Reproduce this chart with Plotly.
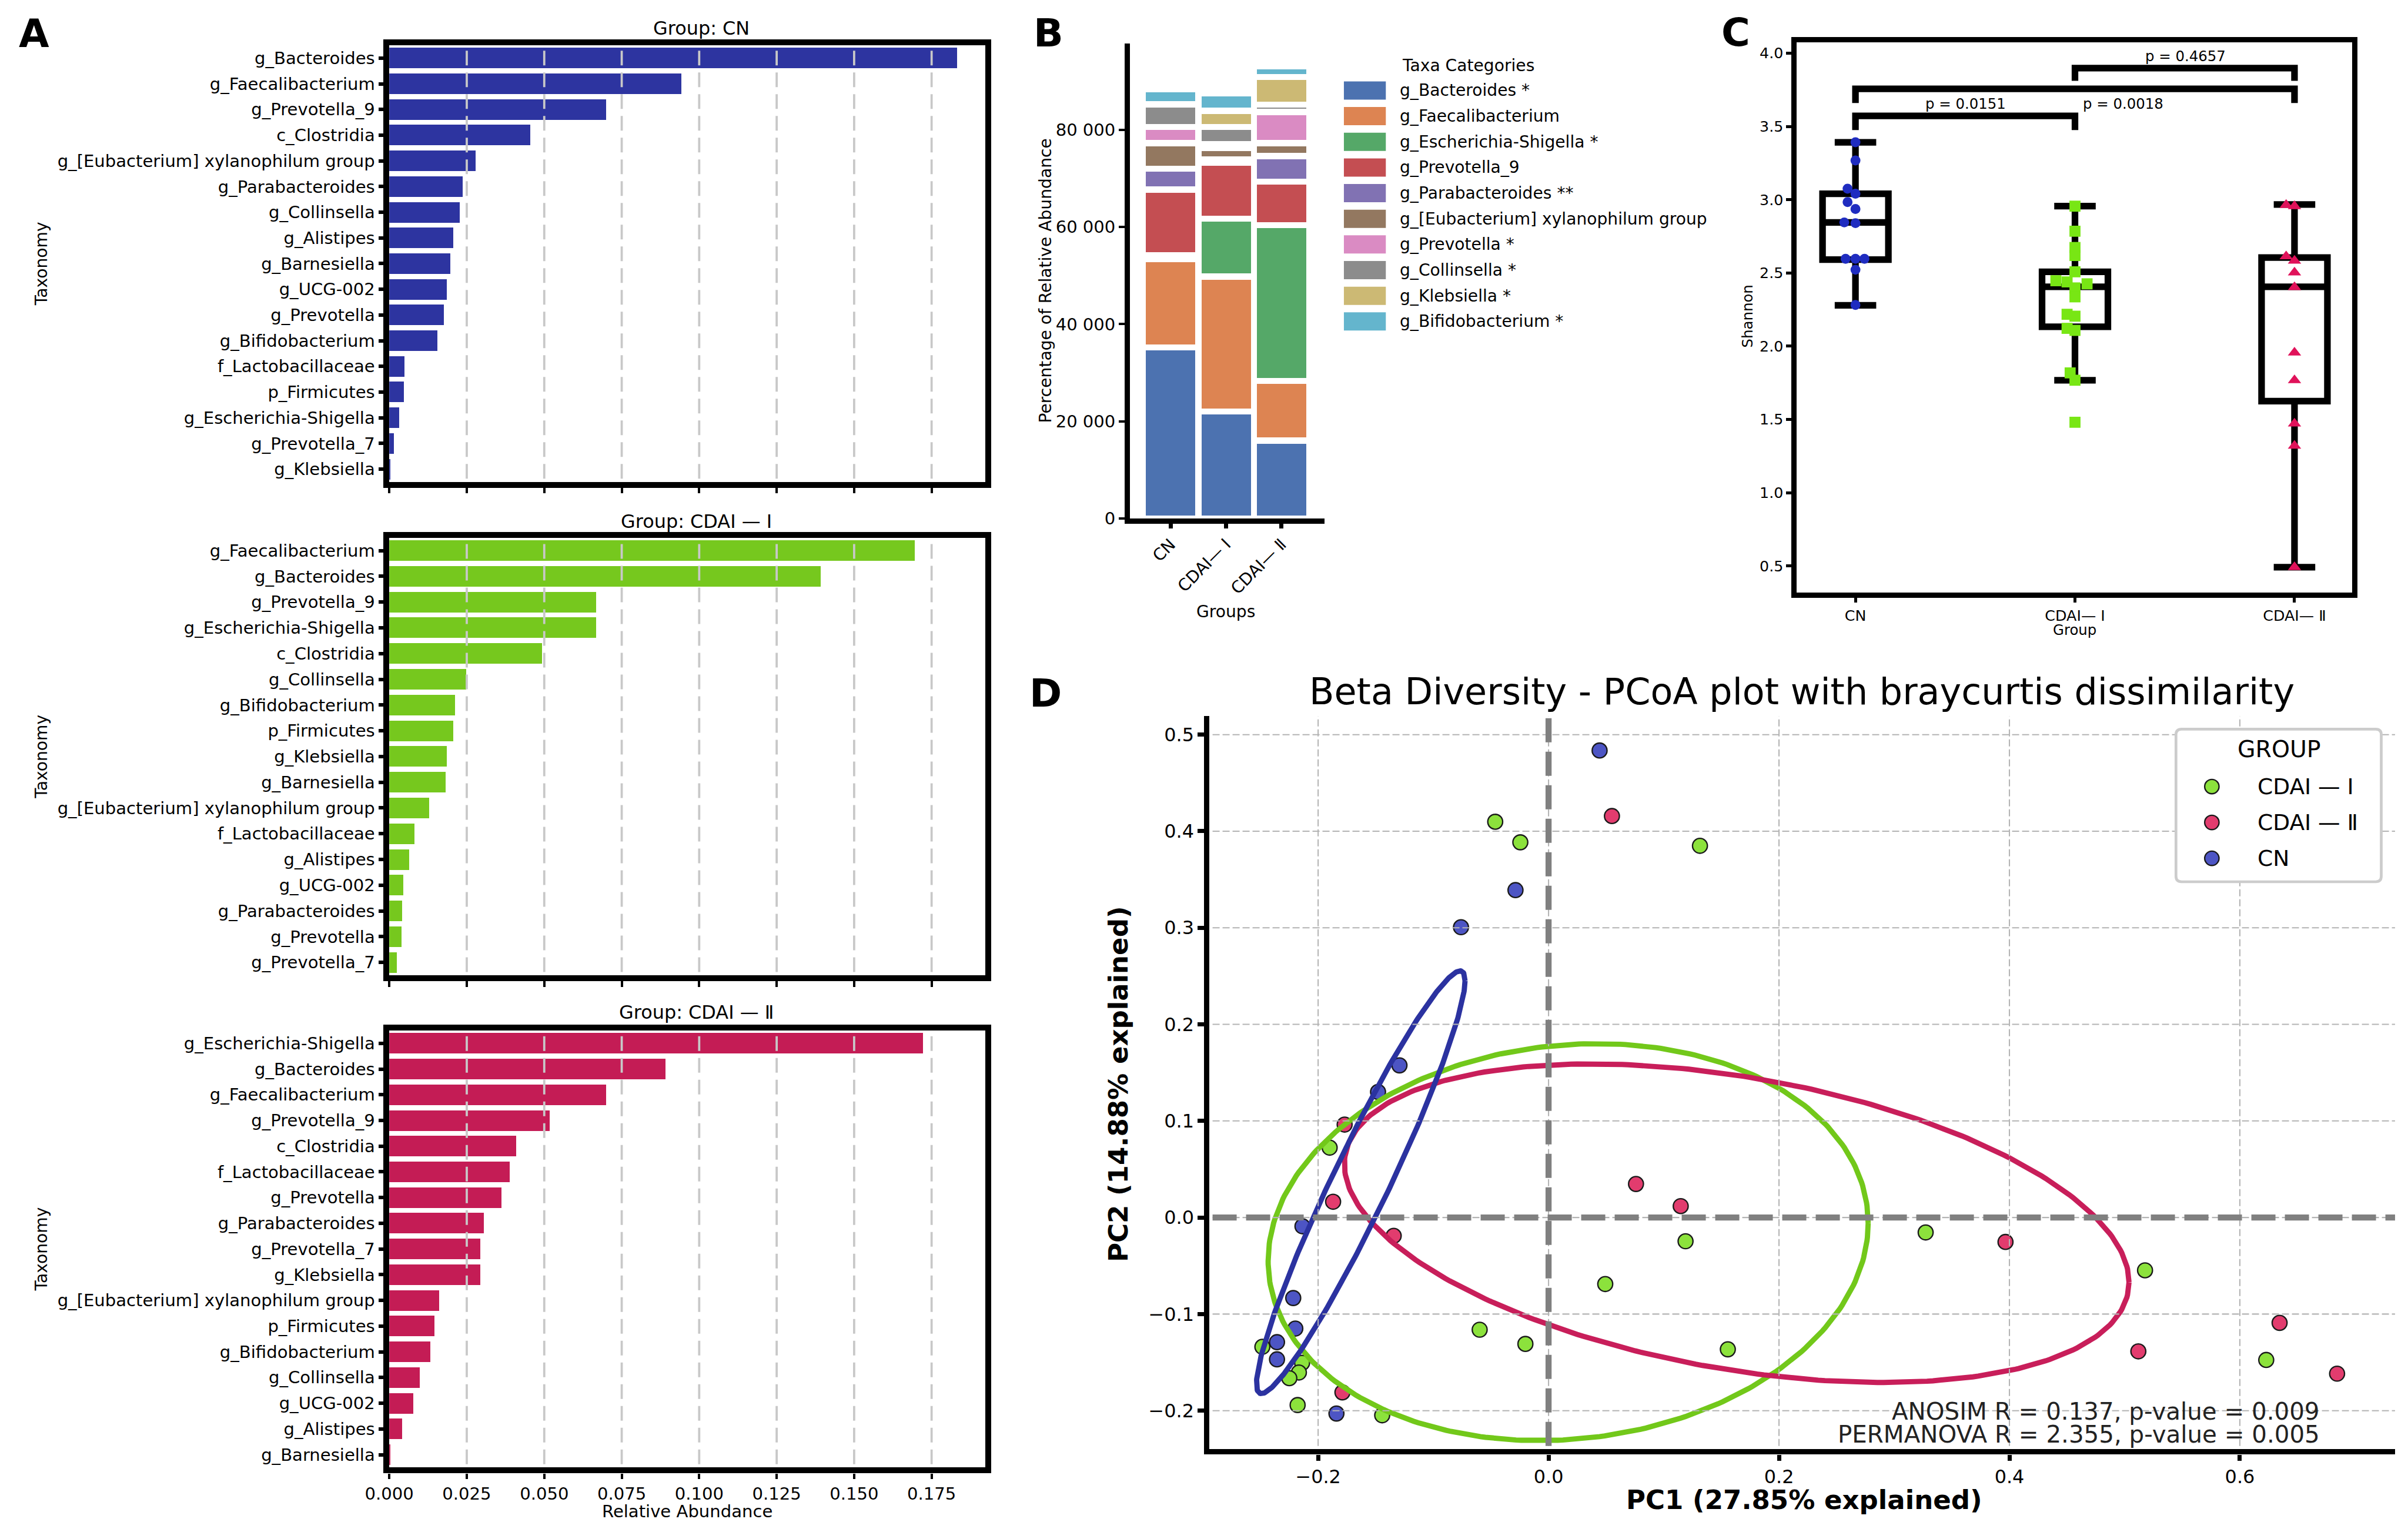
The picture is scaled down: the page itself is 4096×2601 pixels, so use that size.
import numpy as np
import plotly.graph_objects as go

# ---------------- geometry helpers (reference px -> output) ----------------
W, H = 4096, 2601
RW, RH = 4364.0, 2771.0
S = W / RW
FONT = "DejaVu Sans"


def P(v):
    return v * S


def PX(x):
    return x / RW


def PY(y):
    return 1 - y / RH


# ---------------- Panel A data ----------------
A_TITLES = ["Group: CN", "Group: CDAI — Ⅰ", "Group: CDAI — Ⅱ"]
A_CN_TAXA = ["g_Bacteroides", "g_Faecalibacterium", "g_Prevotella_9", "c_Clostridia",
             "g_[Eubacterium] xylanophilum group", "g_Parabacteroides", "g_Collinsella",
             "g_Alistipes", "g_Barnesiella", "g_UCG-002", "g_Prevotella", "g_Bifidobacterium",
             "f_Lactobacillaceae", "p_Firmicutes", "g_Escherichia-Shigella", "g_Prevotella_7",
             "g_Klebsiella"]
A_CN_VALUES = [0.1832, 0.0942, 0.0699, 0.0454, 0.0278, 0.0237, 0.0227, 0.0206, 0.0196,
               0.0186, 0.0176, 0.0155, 0.0049, 0.0048, 0.0031, 0.0014, 0.0003]
A_CDAI1_TAXA = ["g_Faecalibacterium", "g_Bacteroides", "g_Prevotella_9", "g_Escherichia-Shigella",
                "c_Clostridia", "g_Collinsella", "g_Bifidobacterium", "p_Firmicutes",
                "g_Klebsiella", "g_Barnesiella", "g_[Eubacterium] xylanophilum group",
                "f_Lactobacillaceae", "g_Alistipes", "g_UCG-002", "g_Parabacteroides",
                "g_Prevotella", "g_Prevotella_7"]
A_CDAI1_VALUES = [0.1695, 0.1392, 0.0668, 0.0667, 0.0493, 0.0249, 0.0213, 0.0206, 0.0186,
                  0.0182, 0.0129, 0.0082, 0.0065, 0.0045, 0.0041, 0.0040, 0.0025]
A_CDAI2_TAXA = ["g_Escherichia-Shigella", "g_Bacteroides", "g_Faecalibacterium", "g_Prevotella_9",
                "c_Clostridia", "f_Lactobacillaceae", "g_Prevotella", "g_Parabacteroides",
                "g_Prevotella_7", "g_Klebsiella", "g_[Eubacterium] xylanophilum group",
                "p_Firmicutes", "g_Bifidobacterium", "g_Collinsella", "g_UCG-002",
                "g_Alistipes", "g_Barnesiella"]
A_CDAI2_VALUES = [0.1723, 0.0891, 0.0699, 0.0517, 0.0409, 0.0388, 0.0362, 0.0305, 0.0294,
                  0.0293, 0.0161, 0.0145, 0.0133, 0.0098, 0.0078, 0.0041, 0.0002]
A_COLORS = ["#2d34a0", "#76c81e", "#c41c55"]
A_XTICKS = [0.0, 0.025, 0.05, 0.075, 0.1, 0.125, 0.15, 0.175]
A_XTICKTEXT = ["0.000", "0.025", "0.050", "0.075", "0.100", "0.125", "0.150", "0.175"]

# ---------------- Panel B data ----------------
B_GROUPS = ["CN", "CDAI— Ⅰ", "CDAI— Ⅱ"]
B_TAXA = ["g_Bacteroides *", "g_Faecalibacterium", "g_Escherichia-Shigella *", "g_Prevotella_9",
          "g_Parabacteroides **", "g_[Eubacterium] xylanophilum group", "g_Prevotella *",
          "g_Collinsella *", "g_Klebsiella *", "g_Bifidobacterium *"]
B_COLORS = ["#4c72b0", "#dd8452", "#55a868", "#c44e52", "#8172b3", "#937860", "#da8bc3",
            "#8c8c8c", "#ccb974", "#64b5cd"]
B_CN = [35210, 18160, 840, 13500, 4330, 5250, 3330, 4590, 100, 3080]
B_CDAI1 = [22040, 27750, 11920, 11580, 670, 2330, 750, 3580, 3340, 3580]
B_CDAI2 = [16040, 12250, 32090, 9000, 5240, 2670, 6420, 1500, 5670, 2240]
B_YTICKS = [0, 20000, 40000, 60000, 80000]
B_YTICKTEXT = ["0", "20 000", "40 000", "60 000", "80 000"]

# ---------------- Panel C data ----------------
C_GROUPS = ["CN", "CDAI— Ⅰ", "CDAI— Ⅱ"]
C_Q1 = [2.591, 2.133, 1.625]
C_MEDIAN = [2.845, 2.406, 2.406]
C_Q3 = [3.041, 2.508, 2.605]
C_LOWER = [2.279, 1.768, 0.492]
C_UPPER = [3.392, 2.956, 2.967]
C_CN_SHANNON = [3.392, 3.268, 3.075, 3.041, 2.984, 2.937, 2.845, 2.840, 2.597, 2.597, 2.597,
                2.522, 2.282]
C_CN_JITTER = [0, 0, -0.036, 0, -0.036, 0, -0.051, 0, -0.045, 0, 0.041, 0, 0]
C_CDAI1_SHANNON = [2.956, 2.785, 2.674, 2.619, 2.508, 2.447, 2.439, 2.426, 2.398, 2.337, 2.218,
                   2.205, 2.122, 2.108, 1.818, 1.768, 1.481]
C_CDAI1_JITTER = [0, 0, 0, 0, 0, -0.087, -0.036, 0.055, 0, 0, -0.036, 0, -0.036, 0, -0.022, 0, 0]
C_CDAI2_SHANNON = [2.964, 2.956, 2.613, 2.583, 2.503, 2.403, 1.956, 1.768, 1.472, 1.320, 0.492]
C_CDAI2_JITTER = [-0.038, 0, -0.038, 0, 0, 0, 0, 0, 0, 0, 0]
C_PT_COLORS = ["#1f2cc0", "#78e614", "#e0125a"]
C_PT_SYMBOLS = ["circle", "square", "triangle-up"]
C_YTICKS = [0.5, 1.0, 1.5, 2.0, 2.5, 3.0, 3.5, 4.0]
# significance brackets: group a, group b, bar height, leg bottom, label, label x, label y
C_BR_A = [0, 0, 1]
C_BR_B = [1, 2, 2]
C_BR_TOP = [3.572, 3.757, 3.898]
C_BR_LEG = [3.475, 3.660, 3.812]
C_BR_TEXT = ["p = 0.0151", "p = 0.0018", "p = 0.4657"]
C_BR_TX = [0.502, 1.22, 1.503]
C_BR_TY = [3.655, 3.655, 3.98]

# ---------------- Panel D data ----------------
D_GROUPS = ["CDAI — Ⅰ", "CDAI — Ⅱ", "CN"]
D_CDAI1_PC1 = [-0.0463, -0.0245, 0.1314, -0.190, 0.0492, 0.1189, 0.1556, 0.3273, 0.5177, 0.6229,
               -0.0598, -0.0201, -0.2484, -0.2139, -0.2167, -0.2250, -0.2178, -0.1444]
D_CDAI1_PC2 = [0.4098, 0.3885, 0.3849, 0.0723, -0.0689, -0.0246, -0.1365, -0.0155, -0.0547,
               -0.1475, -0.1162, -0.1309, -0.1339, -0.1505, -0.1605, -0.1664, -0.1942, -0.2048]
D_CDAI2_PC1 = [0.055, -0.177, -0.187, -0.1344, 0.0759, 0.1147, 0.3966, 0.5119, 0.6345, 0.6844,
               -0.1789]
D_CDAI2_PC2 = [0.4157, 0.0962, 0.0163, -0.019, 0.0347, 0.0118, -0.0253, -0.1386, -0.1091,
               -0.1617, -0.1811]
D_CN_PC1 = [0.0443, -0.0287, -0.076, -0.1294, -0.148, -0.2136, -0.2216, -0.2198, -0.2357,
            -0.2357, -0.1841]
D_CN_PC2 = [0.4836, 0.339, 0.3006, 0.1575, 0.130, -0.0091, -0.0834, -0.115, -0.1291, -0.1469,
            -0.203]
D_PT_COLORS = ["#8ce23c", "#e23c6e", "#4d55c4"]
D_EL_COLORS = ["#72c81a", "#c81e5a", "#2b32a0"]
# ellipse: centre (cx, cy); x = cx + a cos t ; y = cy + b cos t + c sin t
D_EL_CX = [0.017, 0.1633, -0.163]
D_EL_CY = [-0.0255, -0.0059, 0.0365]
D_EL_A = [0.2604, 0.3405, 0.0905]
D_EL_B = [0.0196, -0.0611, 0.2086]
D_EL_C = [0.2046, 0.1532, 0.0662]
D_XTICKS = [-0.2, 0.0, 0.2, 0.4, 0.6]
D_XTICKTEXT = ["−0.2", "0.0", "0.2", "0.4", "0.6"]
D_YTICKS = [-0.2, -0.1, 0.0, 0.1, 0.2, 0.3, 0.4, 0.5]
D_YTICKTEXT = ["−0.2", "−0.1", "0.0", "0.1", "0.2", "0.3", "0.4", "0.5"]
D_STATS = ["ANOSIM R = 0.137, p-value = 0.009", "PERMANOVA R = 2.355, p-value = 0.005"]

# ======================================================================
fig = go.Figure()
shapes = []
annotations = []


def add_text(x, y, s, size, xanchor="center", yanchor="middle", angle=0, weight="normal",
             color="black", family=FONT):
    annotations.append(dict(x=PX(x), y=PY(y), xref="paper", yref="paper", text=s,
                            showarrow=False, xanchor=xanchor, yanchor=yanchor, textangle=angle,
                            font=dict(family=family, size=P(size), color=color, weight=weight)))


layout = dict(width=W, height=H, margin=dict(l=0, r=0, t=0, b=0, pad=0), paper_bgcolor="white",
              plot_bgcolor="white", barmode="stack", boxmode="overlay", showlegend=False,
              template="none", font=dict(family=FONT, color="black", size=P(30)))
AX_COMMON = dict(automargin=False, showgrid=False, zeroline=False, linecolor="black",
                 tickcolor="black")

# ---------------- Panel A ----------------
A_L, A_R = 697, 1777
A_TOPS = [73.5, 966, 1859]
A_BOTS = [865, 1759, 2651]
A_TITLE_X = [1263, 1254, 1254]
A_TITLE_Y = [43, 936, 1826]
A_XMAX = 0.1923
a_sets = [(A_CN_TAXA, A_CN_VALUES), (A_CDAI1_TAXA, A_CDAI1_VALUES), (A_CDAI2_TAXA, A_CDAI2_VALUES)]
for i, (taxa, vals) in enumerate(a_sets):
    n = i + 1
    sfx = "" if n == 1 else str(n)
    xa, ya = "x" + sfx, "y" + sfx
    fig.add_trace(go.Bar(x=vals, y=taxa, orientation="h", width=0.8,
                         marker=dict(color=A_COLORS[i], line=dict(width=0)),
                         xaxis=xa, yaxis=ya, hoverinfo="skip"))
    layout["xaxis" + sfx] = dict(AX_COMMON, domain=[PX(A_L), PX(A_R)], range=[0, A_XMAX],
                                 anchor=ya, showline=True, mirror=True, linewidth=P(11),
                                 ticks="outside", ticklen=P(10), tickwidth=P(4),
                                 tickvals=A_XTICKS, ticktext=A_XTICKTEXT, showticklabels=(n == 3),
                                 tickfont=dict(size=P(31)))
    layout["yaxis" + sfx] = dict(AX_COMMON, domain=[PY(A_BOTS[i]), PY(A_TOPS[i])],
                                 type="category", categoryorder="array", categoryarray=taxa,
                                 range=[len(taxa) - 0.5, -0.5], anchor=xa, showline=True,
                                 mirror=True, linewidth=P(11), ticks="outside", ticklen=P(9),
                                 tickwidth=P(6), tickfont=dict(size=P(31)))
    hgt = A_BOTS[i] - A_TOPS[i]
    for t in A_XTICKS[1:]:
        shapes.append(dict(type="line", xref=xa, yref=ya + " domain", x0=t, x1=t,
                           y0=6 / hgt, y1=1 - 6 / hgt, layer="above",
                           line=dict(color="#c8c8c8", width=P(4),
                                     dash="%dpx,%dpx" % (round(P(27)), round(P(13))))))
    add_text(A_TITLE_X[i], A_TITLE_Y[i], A_TITLES[i], 34)
    add_text(67, (A_TOPS[i] + A_BOTS[i]) / 2, "Taxonomy", 30, angle=-90)
add_text((A_L + A_R) / 2, 2731, "Relative Abundance", 31)
add_text(53, 52, "A", 71, weight="bold")

# ---------------- Panel B ----------------
for j, taxon in enumerate(B_TAXA):
    fig.add_trace(go.Bar(x=B_GROUPS, y=[B_CN[j], B_CDAI1[j], B_CDAI2[j]], width=1.0,
                         marker=dict(color=B_COLORS[j], line=dict(color="white", width=P(11))),
                         xaxis="x4", yaxis="y4", hoverinfo="skip"))
layout["xaxis4"] = dict(AX_COMMON, domain=[PX(2039), PX(2392)], type="category",
                        categoryorder="array", categoryarray=B_GROUPS, range=[-0.736, 2.776],
                        anchor="y4", showline=True, linewidth=P(10), ticks="outside",
                        ticklen=P(8), tickwidth=P(7), tickangle=-45, tickfont=dict(size=P(30)))
layout["yaxis4"] = dict(AX_COMMON, domain=[PY(931), PY(70)], range=[0, 97840], anchor="x4",
                        showline=True, linewidth=P(10), ticks="outside", ticklen=P(10),
                        tickwidth=P(4), tickvals=B_YTICKS, ticktext=B_YTICKTEXT,
                        tickfont=dict(size=P(31)))
add_text(1886, 500, "Percentage of Relative Abundance", 30, angle=-90)
add_text(2213, 1100, "Groups", 30)
add_text(1892, 51, "B", 71, weight="bold")
# legend
add_text(2530, 110, "Taxa Categories", 30, xanchor="left")
for j, taxon in enumerate(B_TAXA):
    yc = 155.5 + j * 46.5
    shapes.append(dict(type="rect", xref="paper", yref="paper", x0=PX(2427), x1=PX(2503),
                       y0=PY(yc + 16.5), y1=PY(yc - 16.5), fillcolor=B_COLORS[j],
                       line=dict(width=0), layer="above"))
    add_text(2526, yc, taxon, 30, xanchor="left")

# ---------------- Panel C ----------------
for i in range(3):
    fig.add_trace(go.Box(x=[i], q1=[C_Q1[i]], median=[C_MEDIAN[i]], q3=[C_Q3[i]],
                         lowerfence=[C_LOWER[i]], upperfence=[C_UPPER[i]], width=0.3,
                         whiskerwidth=0.63, fillcolor="white",
                         line=dict(color="black", width=P(12)), boxpoints=False,
                         xaxis="x5", yaxis="y5", hoverinfo="skip"))
c_sets = [(C_CN_SHANNON, C_CN_JITTER), (C_CDAI1_SHANNON, C_CDAI1_JITTER),
          (C_CDAI2_SHANNON, C_CDAI2_JITTER)]
c_sizes = [18, 20, 21]
for i, (vals, jit) in enumerate(c_sets):
    fig.add_trace(go.Scatter(x=[i + d for d in jit], y=vals, mode="markers",
                             marker=dict(symbol=C_PT_SYMBOLS[i], size=P(c_sizes[i]),
                                         color=C_PT_COLORS[i], line=dict(width=0)),
                             xaxis="x5", yaxis="y5", hoverinfo="skip"))
for k in range(3):
    a, b = C_BR_A[k], C_BR_B[k]
    fig.add_trace(go.Scatter(x=[a, a, b, b], y=[C_BR_LEG[k], C_BR_TOP[k], C_BR_TOP[k], C_BR_LEG[k]],
                             mode="lines", line=dict(color="black", width=P(12)),
                             xaxis="x5", yaxis="y5", hoverinfo="skip"))
    annotations.append(dict(x=C_BR_TX[k], y=C_BR_TY[k], xref="x5", yref="y5", text=C_BR_TEXT[k],
                            showarrow=False, font=dict(family=FONT, size=P(26), color="black")))
layout["xaxis5"] = dict(AX_COMMON, domain=[PX(3247.5), PX(4254)], range=[-0.268, 2.262],
                        anchor="y5", showline=True, mirror=True, linewidth=P(10),
                        ticks="outside", ticklen=P(9), tickwidth=P(5),
                        tickvals=[0, 1, 2], ticktext=C_GROUPS, tickfont=dict(size=P(27)))
layout["yaxis5"] = dict(AX_COMMON, domain=[PY(1065), PY(68)], range=[0.32, 4.075], anchor="x5",
                        showline=True, mirror=True, linewidth=P(10), ticks="outside",
                        ticklen=P(9), tickwidth=P(5), tickvals=C_YTICKS,
                        ticktext=["%.1f" % v for v in C_YTICKS], tickfont=dict(size=P(27)))
add_text(3158, 565, "Shannon", 26, angle=-90)
add_text(3751, 1133, "Group", 26)
add_text(3137, 50, "C", 71, weight="bold")

# ---------------- Panel D ----------------
d_pts = [(D_CDAI1_PC1, D_CDAI1_PC2), (D_CDAI2_PC1, D_CDAI2_PC2), (D_CN_PC1, D_CN_PC2)]
for g, (xs, ys) in enumerate(d_pts):
    fig.add_trace(go.Scatter(x=xs, y=ys, mode="markers",
                             marker=dict(symbol="circle", size=P(27), color=D_PT_COLORS[g],
                                         line=dict(color="#1a1a1a", width=P(2.5))),
                             xaxis="x6", yaxis="y6", hoverinfo="skip"))
tt = np.linspace(0, 2 * np.pi, 361)
for g in range(3):
    ex = D_EL_CX[g] + D_EL_A[g] * np.cos(tt)
    ey = D_EL_CY[g] + D_EL_B[g] * np.cos(tt) + D_EL_C[g] * np.sin(tt)
    fig.add_trace(go.Scatter(x=ex, y=ey, mode="lines", line=dict(color=D_EL_COLORS[g], width=P(9.5)),
                             xaxis="x6", yaxis="y6", hoverinfo="skip"))
D_L, D_R, D_T, D_B = 2183, 4332, 1289.6, 2618
layout["xaxis6"] = dict(AX_COMMON, domain=[PX(D_L), PX(D_R)], range=[-0.2945, 0.7347],
                        anchor="y6", showline=True, linewidth=P(10), ticks="outside",
                        ticklen=P(11), tickwidth=P(7), tickvals=D_XTICKS,
                        ticktext=D_XTICKTEXT, tickfont=dict(size=P(34)))
layout["yaxis6"] = dict(AX_COMMON, domain=[PY(D_B), PY(D_T)], range=[-0.24, 0.519], anchor="x6",
                        showline=True, linewidth=P(10), ticks="outside", ticklen=P(11),
                        tickwidth=P(7), tickvals=D_YTICKS, ticktext=D_YTICKTEXT,
                        tickfont=dict(size=P(34)))
grid_dash = "%dpx,%dpx" % (round(P(13)), round(P(5)))
for t in D_XTICKS:
    shapes.append(dict(type="line", xref="x6", yref="y6 domain", x0=t, x1=t,
                       y0=6 / (D_B - D_T), y1=1, layer="above",
                       line=dict(color="#b4b4b4", width=P(2.2), dash=grid_dash)))
for t in D_YTICKS:
    shapes.append(dict(type="line", xref="x6 domain", yref="y6", x0=6 / (D_R - D_L), x1=1,
                       y0=t, y1=t, layer="above",
                       line=dict(color="#b4b4b4", width=P(2.2), dash=grid_dash)))
zero_dash = "%dpx,%dpx" % (round(P(44)), round(P(17)))
shapes.append(dict(type="line", xref="x6", yref="y6 domain", x0=0, x1=0, y0=6 / (D_B - D_T), y1=1,
                   layer="above", line=dict(color="#808080", width=P(11), dash=zero_dash)))
shapes.append(dict(type="line", xref="x6 domain", yref="y6", x0=6 / (D_R - D_L), x1=1, y0=0, y1=0,
                   layer="above", line=dict(color="#808080", width=P(11), dash=zero_dash)))


def rrect(x0, y0, x1, y1, r):
    X = lambda v: "%.6f" % PX(v)
    Y = lambda v: "%.6f" % PY(v)
    return ("M%s,%s L%s,%s Q%s,%s %s,%s L%s,%s Q%s,%s %s,%s L%s,%s Q%s,%s %s,%s L%s,%s Q%s,%s %s,%s Z"
            % (X(x0 + r), Y(y0), X(x1 - r), Y(y0), X(x1), Y(y0), X(x1), Y(y0 + r),
               X(x1), Y(y1 - r), X(x1), Y(y1), X(x1 - r), Y(y1),
               X(x0 + r), Y(y1), X(x0), Y(y1), X(x0), Y(y1 - r),
               X(x0), Y(y0 + r), X(x0), Y(y0), X(x0 + r), Y(y0)))


shapes.append(dict(type="path", xref="paper", yref="paper", path=rrect(3935, 1313, 4307, 1589.5, 10),
                   fillcolor="white", line=dict(color="#cccccc", width=P(5)), layer="above"))
add_text(4122, 1348.5, "GROUP", 42)
for g in range(3):
    yc = 1417 + g * 65
    r = 13
    shapes.append(dict(type="circle", xref="paper", yref="paper", x0=PX(4000 - r), x1=PX(4000 + r),
                       y0=PY(yc + r), y1=PY(yc - r), fillcolor=D_PT_COLORS[g],
                       line=dict(color="#1a1a1a", width=P(2.5)), layer="above"))
    add_text(4081, yc, D_GROUPS[g], 40, xanchor="left")
add_text(3257.5, 1245, "Beta Diversity - PCoA plot with braycurtis dissimilarity", 66)
add_text(3261, 2710, "PC1 (27.85% explained)", 48, weight="bold")
add_text(2018, 1956, "PC2 (14.88% explained)", 48, angle=-90, weight="bold")
add_text(4198, 2550, D_STATS[0], 43, xanchor="right", color="#222222")
add_text(4198, 2592, D_STATS[1], 43, xanchor="right", color="#222222")
add_text(1886, 1248, "D", 71, weight="bold")

layout["shapes"] = shapes
layout["annotations"] = annotations
fig.update_layout(**layout)
fig.write_html("out.html")
